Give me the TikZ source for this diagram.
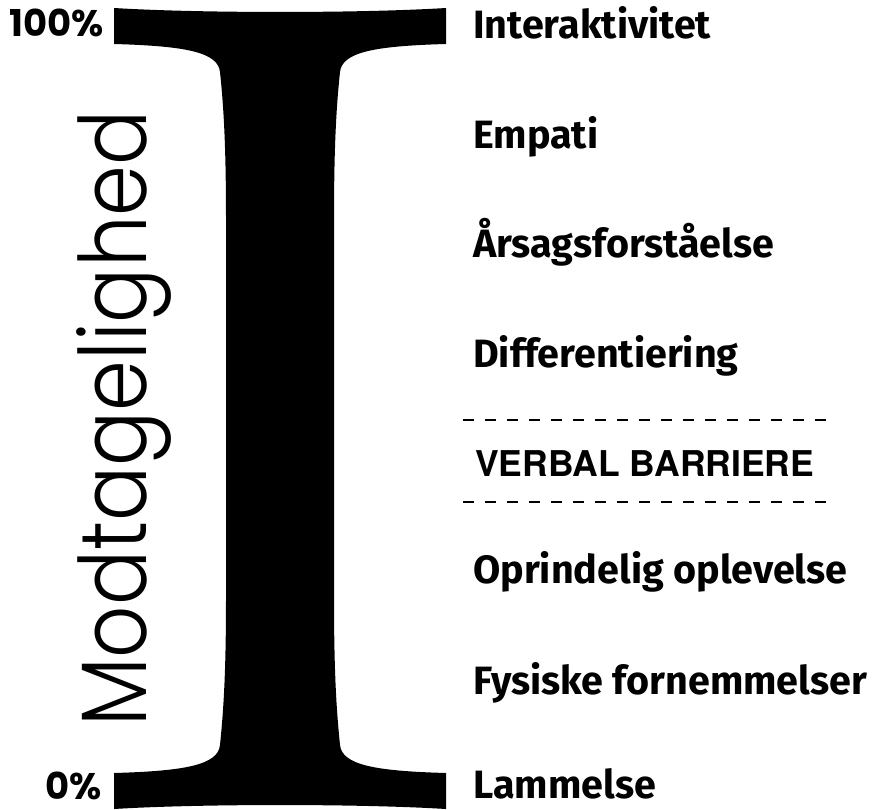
\documentclass[tikz,border=0pt]{standalone}
\usepackage{fontspec}
\usetikzlibrary{positioning}
\newfontfamily\modfont{Poppins Light}
\newfontfamily\pctfont{Poppins Bold}
\newfontfamily\labfont{Fira Sans}
\newfontfamily\barfont{texgyreheros-bold.otf}

\tikzset{
  stage/.style={anchor=base west, inner sep=0, font=\labfont\bfseries\fontsize{39.5}{42}\selectfont},
  pct/.style={anchor=base east, inner sep=0, font=\pctfont\fontsize{37}{40}\selectfont},
  barrier/.style={line width=2pt, dash pattern=on 11pt off 11pt}
}

\begin{document}
\begin{tikzpicture}[x=1pt, y=-1pt]
\useasboundingbox (0,0) rectangle (872,810);
% the big I
\fill[black] (114,8) .. controls (200,13.3) and (360,13.3) .. (446,8) -- (446,44)
  .. controls (375,46) and (342,52) .. (340,72)
  .. controls (336,110) and (334,150) .. (334,220) -- (334,597)
  .. controls (334,667) and (336,706) .. (340,745)
  .. controls (342,765) and (375,771) .. (446,773) -- (446,809)
  .. controls (360,803.7) and (200,803.7) .. (114,809) -- (114,773)
  .. controls (185,771) and (218,765) .. (220,745)
  .. controls (224,706) and (226,667) .. (226,597) -- (226,220)
  .. controls (226,150) and (224,110) .. (220,72)
  .. controls (218,52) and (185,46) .. (114,44) -- cycle;
\node[pct] (top) at (104,37) {100\%};
\node[pct] (bottom) at (102,799) {0\%};
\node[rotate=90, anchor=base west, inner sep=0, font=\modfont\fontsize{93}{100}\selectfont] (axis) at (146,727) {\scalebox{0.878}[1]{Modtagelighed}};
% stages
\node[stage] (inter) at (473,39) {Interaktivitet};
\node[stage] (empati) at (473,149) {Empati};
\node[stage] (aarsag) at (473,258) {Årsagsforståelse};
\node[stage] (diff) at (473,367) {Differentiering};
\node[anchor=base west, inner sep=0, font=\barfont\fontsize{35.5}{38}\selectfont] (verbal) at (475,476) {VERBAL BARRIERE};
\node[stage] (oprind) at (473,583) {Oprindelig oplevelse};
\node[stage] (fysisk) at (473,694) {Fysiske fornemmelser};
\node[stage] (lam) at (473,798) {Lammelse};
% barrier lines
\coordinate (b1) at (463,420);
\coordinate (b2) at (463,502);
\draw[barrier] (b1) -- ++(372,0);
\draw[barrier] (b2) -- ++(372,0);
\end{tikzpicture}
\end{document}
